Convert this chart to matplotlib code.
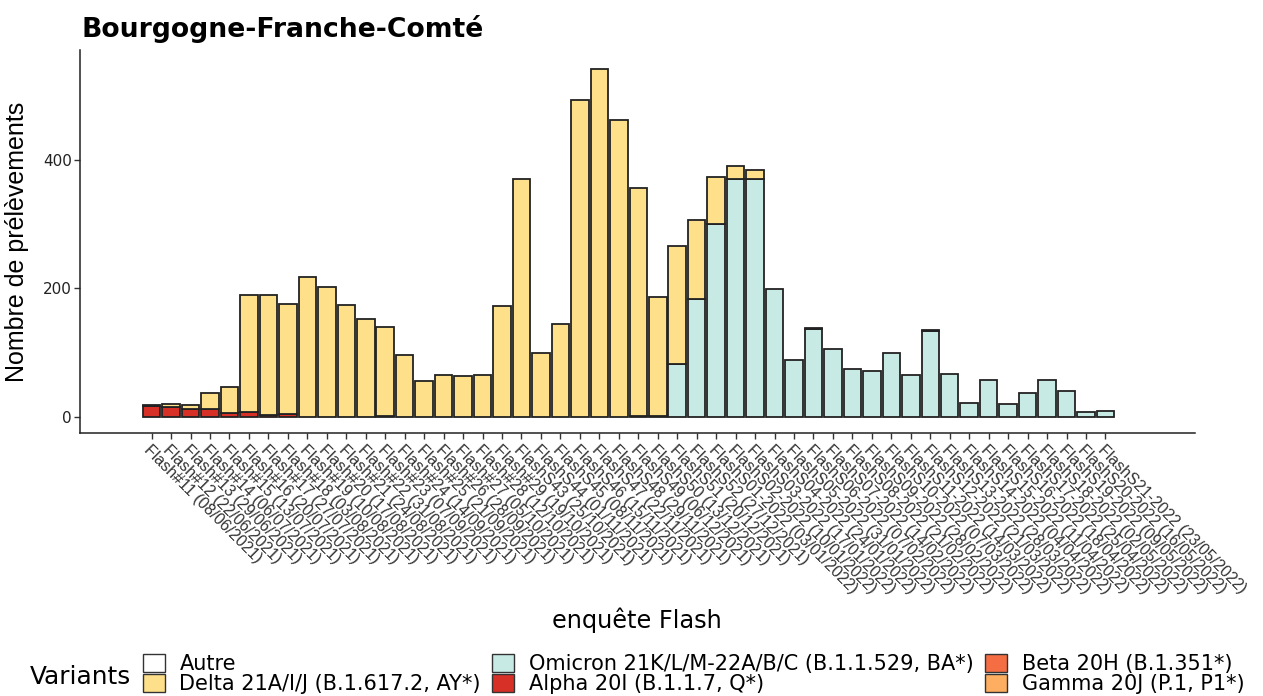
import matplotlib
matplotlib.use("Agg")
import matplotlib.pyplot as plt
from matplotlib.patches import Patch
import numpy as np

plt.rcParams['font.family'] = ['Liberation Sans', 'DejaVu Sans']

labels = [
    "Flash#11 (08/06/2021)", "Flash#12 (22/06/2021)", "Flash#13 (29/06/2021)",
    "Flash#14 (06/07/2021)", "Flash#15 (13/07/2021)", "Flash#16 (20/07/2021)",
    "Flash#17 (27/07/2021)", "Flash#18 (03/08/2021)", "Flash#19 (10/08/2021)",
    "Flash#20 (17/08/2021)", "Flash#21 (24/08/2021)", "Flash#22 (31/08/2021)",
    "Flash#23 (07/09/2021)", "Flash#24 (14/09/2021)", "Flash#25 (21/09/2021)",
    "Flash#26 (28/09/2021)", "Flash#27 (05/10/2021)", "Flash#28 (12/10/2021)",
    "Flash#29 (19/10/2021)",
    "FlashS43 (25/10/2021)", "FlashS44 (01/11/2021)", "FlashS45 (08/11/2021)",
    "FlashS46 (15/11/2021)", "FlashS47 (22/11/2021)", "FlashS48 (29/11/2021)",
    "FlashS49 (06/12/2021)", "FlashS50 (13/12/2021)", "FlashS51 (20/12/2021)",
    "FlashS52 (27/12/2021)",
    "FlashS01-2022 (03/01/2022)", "FlashS02-2022 (10/01/2022)", "FlashS03-2022 (17/01/2022)",
    "FlashS04-2022 (24/01/2022)", "FlashS05-2022 (31/01/2022)", "FlashS06-2022 (07/02/2022)",
    "FlashS07-2022 (14/02/2022)", "FlashS08-2022 (21/02/2022)", "FlashS09-2022 (28/02/2022)",
    "FlashS10-2022 (07/03/2022)", "FlashS11-2022 (14/03/2022)", "FlashS12-2022 (21/03/2022)",
    "FlashS13-2022 (28/03/2022)", "FlashS14-2022 (04/04/2022)", "FlashS15-2022 (11/04/2022)",
    "FlashS16-2022 (18/04/2022)", "FlashS17-2022 (25/04/2022)", "FlashS18-2022 (02/05/2022)",
    "FlashS19-2022 (09/05/2022)", "FlashS20-2022 (16/05/2022)", "FlashS21-2022 (23/05/2022)",
]

gamma = [0] * 50
beta = [0] * 50
alpha = [17, 15, 12, 13, 6, 8, 3, 5, 0, 0, 0, 0, 1, 0, 0, 0, 0, 0, 0,
         0, 0, 0, 0, 0, 0, 0, 0, 0, 0,
         0, 0, 0, 0, 0, 0, 0, 0, 0, 0, 0, 0, 0, 0, 0, 0, 0, 0, 0, 0, 0]
omicron = [0, 0, 0, 0, 0, 0, 0, 0, 0, 0, 0, 0, 0, 0, 0, 0, 0, 0, 0,
           0, 0, 0, 0, 0, 0, 1, 1, 83, 184,
           301, 371, 371, 199, 89, 137, 106, 75, 72, 100, 66, 134, 67, 22, 58, 20, 37, 57, 40, 8, 10]
delta = [1, 5, 6, 25, 40, 181, 187, 170, 218, 202, 174, 153, 139, 96, 56, 65, 63, 66, 172,
         370, 99, 145, 493, 542, 462, 356, 185, 183, 122,
         72, 20, 14, 0, 0, 2, 0, 0, 0, 0, 0, 1, 0, 0, 0, 0, 0, 0, 0, 0, 0]
autre = [0] * 50

series_names = ["Autre", "Delta 21A/I/J (B.1.617.2, AY*)",
                "Omicron 21K/L/M-22A/B/C (B.1.1.529, BA*)", "Alpha 20I (B.1.1.7, Q*)",
                "Beta 20H (B.1.351*)", "Gamma 20J (P.1, P1*)"]
series_colors = ["#FFFFFF", "#FEE08B", "#C7EAE5", "#D73027", "#F46D43", "#FDAE61"]
series_values = [autre, delta, omicron, alpha, beta, gamma]

wide = ['DejaVu Sans']

fig = plt.figure(figsize=(12.63, 6.96), dpi=100)
ax = fig.add_axes([80 / 1263, 1 - 433 / 696, (1195 - 80) / 1263, (433 - 50) / 696])

x = np.arange(len(labels))
bottom = np.zeros(len(labels))
# stack from bottom: Gamma, Beta, Alpha, Omicron, Delta, Autre
for name, col, vals in reversed(list(zip(series_names, series_colors, series_values))):
    v = np.array(vals, dtype=float)
    lws = [1.3 if val > 0 else 0 for val in v]
    ax.bar(x, v, bottom=bottom, width=0.9, color=col, edgecolor="#222222", linewidth=lws)
    bottom += v

ax.set_xlim(-3.68, 53.6)
ax.set_ylim(-25, 571)
ax.set_yticks([0, 200, 400])
ax.set_xticks(x)
ax.set_xticklabels(labels, rotation=-45, ha='left', va='top', rotation_mode='anchor', fontsize=11.5, color="#222222")
ax.tick_params(axis='y', length=4, width=1, colors="#333333", pad=2)
ax.tick_params(axis='x', length=4, width=1, colors="#333333", pad=3)
for lab in ax.get_yticklabels():
    lab.set_color("#222222")
    lab.set_fontsize(11)
    lab.set_family(wide)
for s in ['top', 'right']:
    ax.spines[s].set_visible(False)
for s in ['left', 'bottom']:
    ax.spines[s].set_linewidth(1.1)
    ax.spines[s].set_color("#222222")

ax.set_ylabel("Nombre de prélèvements", fontsize=18, labelpad=10)
fig.text(637 / 1263, 1 - 620 / 696, "enquête Flash", fontsize=17.3, ha='center', va='center', family=wide)
fig.text(82 / 1263, 1 - 29 / 696, "Bourgogne-Franche-Comté", fontsize=19.2, fontweight='bold',
         ha='left', va='center', family=wide)

handles = [Patch(facecolor=c, edgecolor="#333333", linewidth=1.0) for c in series_colors]
fig.text(30 / 1263, 1 - 677 / 696, "Variants", fontsize=17.8, ha='left', va='center', family=wide)
fig.legend(handles, series_names, ncol=3, loc='center left', bbox_to_anchor=(143 / 1263, 1 - 674 / 696),
           frameon=False, prop={'family': wide, 'size': 15}, labelspacing=0.0, handlelength=1.05,
           handleheight=0.95, handletextpad=0.7, columnspacing=0.55, borderpad=0.0, borderaxespad=0.0)

fig.savefig("out.png", dpi=100)
